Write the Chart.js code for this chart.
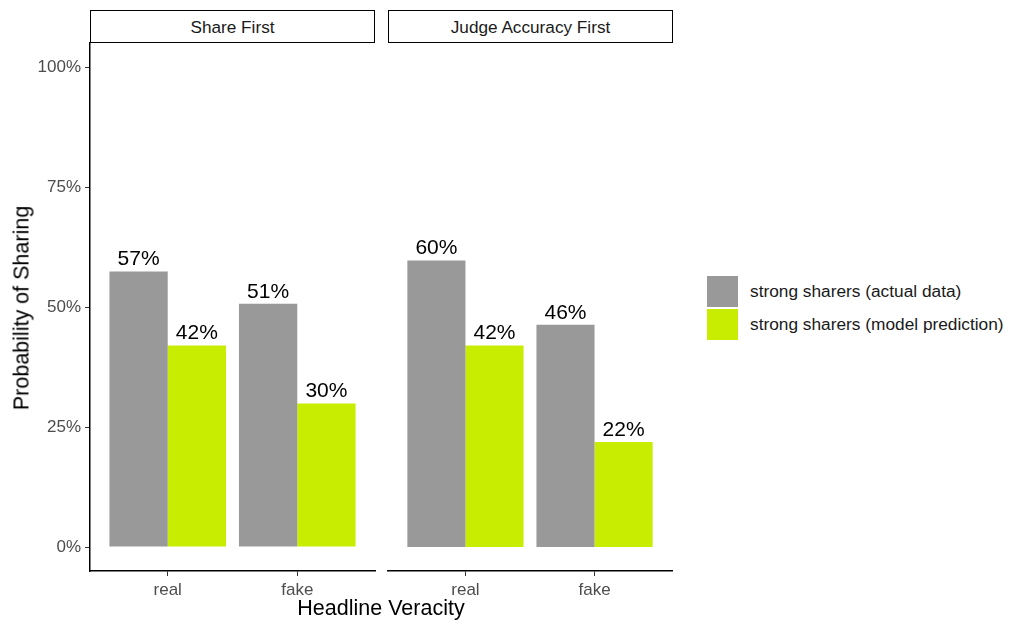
<!DOCTYPE html>
<html>
<head>
<meta charset="utf-8">
<script src="https://cdn.jsdelivr.net/npm/chart.js@4.4.0/dist/chart.umd.min.js"></script>
<style>
  body { margin: 0; background: #fff; width: 1024px; height: 633px; position: relative; overflow: hidden;
         font-family: "Liberation Sans", Arial, sans-serif; }
  canvas { position: absolute; top: 0; }
  .strip { position: absolute; top: 10px; height: 33px; box-sizing: border-box; border: 1.5px solid #000;
           background: #fff; font-size: 17.2px; line-height: 32px; text-align: center; color: #1a1a1a; }
  .titulo { position: absolute; color: #000; font-size: 21.5px; white-space: nowrap; }
  .legenda { position: absolute; left: 707px; font-size: 17.3px; color: #1a1a1a; }
  .item { position: absolute; left: 0; width: 300px; height: 31px; }
  .item span.cx { position: absolute; left: 0; top: 0; width: 31px; height: 31px; }
  .item span.tx { position: absolute; left: 43px; top: 5px; white-space: nowrap; }
</style>
</head>
<body>
<canvas id="painel1" width="380" height="633" style="left:0"></canvas>
<canvas id="painel2" width="300" height="633" style="left:383px"></canvas>
<div class="strip" id="strip1" style="left:90px;width:285px"></div>
<div class="strip" id="strip2" style="left:388px;width:285px"></div>
<div class="titulo" id="tituloX" style="left:381px;top:596px;transform:translateX(-50%)"></div>
<div class="titulo" id="tituloY" style="left:22px;top:308px;transform:translate(-50%,-50%) rotate(-90deg)"></div>
<div class="legenda" id="legenda" style="top:276px"></div>

<script>
// dados
const categorias = ["real", "fake"];
const paineis = ["Share First", "Judge Accuracy First"];
const series = ["strong sharers (actual data)", "strong sharers (model prediction)"];
const cores = ["#999999", "#c9ed00"];

const shareFirstActual = [0.574, 0.507];
const shareFirstModel = [0.42, 0.299];
const judgeFirstActual = [0.597, 0.463];
const judgeFirstModel = [0.42, 0.219];

const yTicks = [0, 0.25, 0.5, 0.75, 1];

const fonte = '"Liberation Sans", Arial, sans-serif';

// textos em HTML
document.getElementById("strip1").textContent = paineis[0];
document.getElementById("strip2").textContent = paineis[1];
document.getElementById("tituloX").textContent = "Headline Veracity";
document.getElementById("tituloY").textContent = "Probability of Sharing";

const legendaEl = document.getElementById("legenda");
series.forEach((s, i) => {
  const item = document.createElement("div");
  item.className = "item";
  item.style.top = (i * 33) + "px";
  item.innerHTML = `<span class="cx" style="background:${cores[i]}"></span><span class="tx">${s}</span>`;
  legendaEl.appendChild(item);
});

// rótulos em cima das barras
const rotulos = {
  id: "rotulos",
  afterDatasetsDraw(chart) {
    const { ctx } = chart;
    ctx.save();
    ctx.font = "21px " + fonte;
    ctx.fillStyle = "#000";
    ctx.textAlign = "center";
    ctx.textBaseline = "alphabetic";
    chart.data.datasets.forEach((ds, i) => {
      chart.getDatasetMeta(i).data.forEach((bar, j) => {
        ctx.fillText(Math.round(ds.data[j].y * 100) + "%", bar.x, bar.y - 6);
      });
    });
    ctx.restore();
  }
};

function pontos(valores) {
  return categorias.map((c, i) => ({ x: i + 1, y: valores[i] }));
}

function desenharPainel(id, actual, model, mostrarY, padding) {
  return new Chart(document.getElementById(id), {
    type: "bar",
    data: {
      datasets: [
        { label: series[0], data: pontos(actual), backgroundColor: cores[0] },
        { label: series[1], data: pontos(model), backgroundColor: cores[1] }
      ]
    },
    options: {
      responsive: false,
      animation: false,
      layout: { padding: padding },
      datasets: { bar: { categoryPercentage: 0.9, barPercentage: 1.0, borderWidth: 0 } },
      plugins: { legend: { display: false }, tooltip: { enabled: false } },
      scales: {
        x: {
          type: "linear",
          min: 0.4,
          max: 2.6,
          offset: false,
          afterBuildTicks: s => { s.ticks = categorias.map((c, i) => ({ value: i + 1 })); },
          afterFit: s => { s.height = 62; },
          ticks: {
            autoSkip: false,
            maxRotation: 0,
            padding: 4,
            color: "#4d4d4d",
            font: { family: fonte, size: 17 },
            callback: v => categorias[Math.round(v) - 1]
          },
          grid: { offset: false, drawOnChartArea: false, drawTicks: true, tickLength: 5, color: "#333", lineWidth: 1 },
          border: { display: true, color: "#000", width: 1.5 }
        },
        y: {
          display: mostrarY,
          min: -0.05,
          max: 1.05,
          afterBuildTicks: s => { s.ticks = yTicks.map(v => ({ value: v })); },
          afterFit: s => { s.width = mostrarY ? 90 : 0; },
          ticks: {
            padding: 4,
            color: "#4d4d4d",
            font: { family: fonte, size: 17 },
            callback: v => Math.round(v * 100) + "%"
          },
          grid: { drawOnChartArea: false, drawTicks: true, tickLength: 5, color: "#333", lineWidth: 1 },
          border: { display: true, color: "#000", width: 1.5 }
        }
      }
    },
    plugins: [rotulos]
  });
}

desenharPainel("painel1", shareFirstActual, shareFirstModel, true, { top: 43, right: 5, left: 0, bottom: 0 });
desenharPainel("painel2", judgeFirstActual, judgeFirstModel, false, { top: 43, right: 11, left: 5, bottom: 0 });
</script>
</body>
</html>
